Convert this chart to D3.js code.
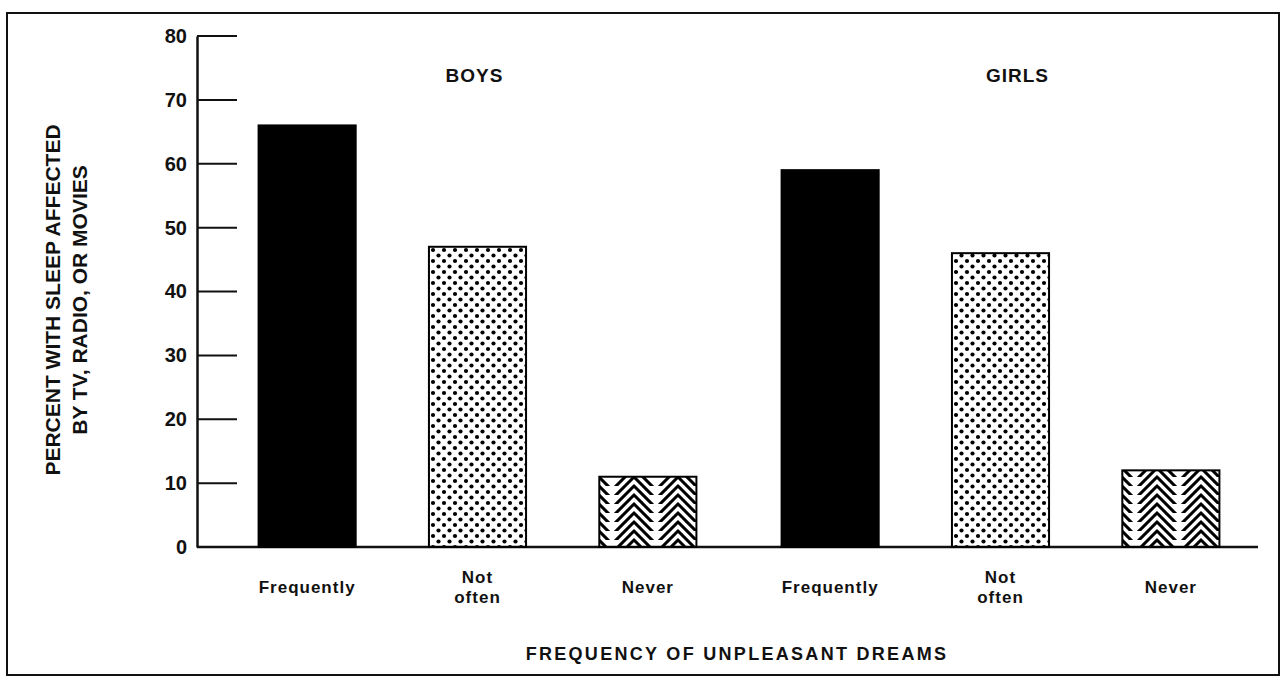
<!DOCTYPE html>
<html>
<head>
<meta charset="utf-8">
<script src="https://cdn.jsdelivr.net/npm/d3@7"></script>
<style>
  body { margin: 0; background: #fff; }
  text { font-family: "Liberation Sans", Arial, sans-serif; fill: #111; }
</style>
</head>
<body>
<div id="chart"></div>
<script>
// Data
const groups = ['BOYS', 'GIRLS'];
const categories = ['Frequently', 'Not often', 'Never'];
const boysValues = [66, 47, 11];
const girlsValues = [59, 46, 12];
const yTicks = [0, 10, 20, 30, 40, 50, 60, 70, 80];

const W = 1285, H = 678;
const svg = d3.select('#chart').append('svg')
  .attr('width', W).attr('height', H);

// patterns
const defs = svg.append('defs');
let dots = defs.append('pattern')
  .attr('id', 'dots').attr('patternUnits', 'userSpaceOnUse')
  .attr('width', 11).attr('height', 11);
dots.append('circle').attr('cx', 2.5).attr('cy', 2.5).attr('r', 2.1).attr('fill', '#000');
dots.append('circle').attr('cx', 8).attr('cy', 8).attr('r', 2.1).attr('fill', '#000');

let chev = defs.append('pattern')
  .attr('id', 'chev').attr('patternUnits', 'userSpaceOnUse')
  .attr('width', 44).attr('height', 9);
[-9, 0, 9].forEach(o => {
  chev.append('path')
    .attr('d', `M0,${22 + o} L22,${o} L44,${22 + o}`)
    .attr('fill', 'none').attr('stroke', '#000').attr('stroke-width', 3);
});

// frame
svg.append('rect')
  .attr('x', 7).attr('y', 13).attr('width', 1272).attr('height', 662)
  .attr('fill', 'none').attr('stroke', '#111').attr('stroke-width', 2);

const y = d3.scaleLinear().domain([0, 80]).range([547, 36]);
const x0 = d3.scaleBand().domain(groups).range([216, 1262]).padding(0);
const x1 = d3.scaleBand().domain(categories).range([0, x0.bandwidth()])
  .paddingInner(0.43).paddingOuter(0.25);

const axisX = 197;

// y axis
let yAxis = d3.axisLeft(y).tickValues(yTicks).tickSize(0).tickPadding(10);
let ya = svg.append('g').attr('transform', `translate(${axisX},0)`).call(yAxis);
ya.select('.domain').attr('stroke', '#111').attr('stroke-width', 2.5);
ya.selectAll('text')
  .style('font-size', '20px').style('font-weight', 'bold')
  .attr('fill', '#111');
// tick marks drawn to the right
svg.selectAll('.tickmark').data(yTicks.filter(d => d > 0)).enter()
  .append('line')
  .attr('x1', axisX).attr('x2', axisX + 40)
  .attr('y1', d => y(d)).attr('y2', d => y(d))
  .attr('stroke', '#111').attr('stroke-width', 2);

// baseline
svg.append('line')
  .attr('x1', axisX).attr('x2', 1258)
  .attr('y1', y(0)).attr('y2', y(0))
  .attr('stroke', '#111').attr('stroke-width', 2.5);

const fills = { 'Frequently': '#000', 'Not often': 'url(#dots)', 'Never': 'url(#chev)' };
const seriesByGroup = { 'BOYS': boysValues, 'GIRLS': girlsValues };
const labelShift = { 'BOYS': -3, 'GIRLS': 17 };

groups.forEach(g => {
  let gg = svg.append('g').attr('transform', `translate(${x0(g)},0)`);
  let rows = categories.map((c, i) => ({ cat: c, value: seriesByGroup[g][i] }));
  gg.selectAll('rect').data(rows).enter().append('rect')
    .attr('x', d => x1(d.cat))
    .attr('y', d => y(d.value))
    .attr('width', x1.bandwidth())
    .attr('height', d => y(0) - y(d.value))
    .attr('fill', d => fills[d.cat])
    .attr('stroke', '#000').attr('stroke-width', 2);

  // group label, over the middle bar
  gg.append('text')
    .attr('x', x1('Not often') + x1.bandwidth() / 2 + labelShift[g])
    .attr('y', 82)
    .attr('text-anchor', 'middle')
    .style('font-size', '19px').style('font-weight', 'bold')
    .style('letter-spacing', '1px')
    .text(g);

  // category labels
  rows.forEach(d => {
    let cx = x1(d.cat) + x1.bandwidth() / 2;
    let words = d.cat === 'Not often' ? ['Not', 'often'] : [d.cat];
    words.forEach((w, k) => {
      gg.append('text')
        .attr('x', cx)
        .attr('y', words.length > 1 ? 583 + k * 20 : 593)
        .attr('text-anchor', 'middle')
        .style('font-size', '17px').style('font-weight', 'bold')
        .style('letter-spacing', '1px')
        .text(w);
    });
  });
});

// axis titles
svg.append('text')
  .attr('x', 737).attr('y', 660)
  .attr('text-anchor', 'middle')
  .style('font-size', '18px').style('font-weight', 'bold')
  .style('letter-spacing', '2.3px')
  .text('FREQUENCY OF UNPLEASANT DREAMS');

let yt = svg.append('text')
  .attr('transform', 'translate(60,300) rotate(-90)')
  .attr('text-anchor', 'middle')
  .style('font-size', '21px').style('font-weight', 'bold');
yt.append('tspan').attr('x', 0).attr('dy', 0).text('PERCENT WITH SLEEP AFFECTED');
yt.append('tspan').attr('x', 0).attr('dy', 27).text('BY TV, RADIO, OR MOVIES');
</script>
</body>
</html>
